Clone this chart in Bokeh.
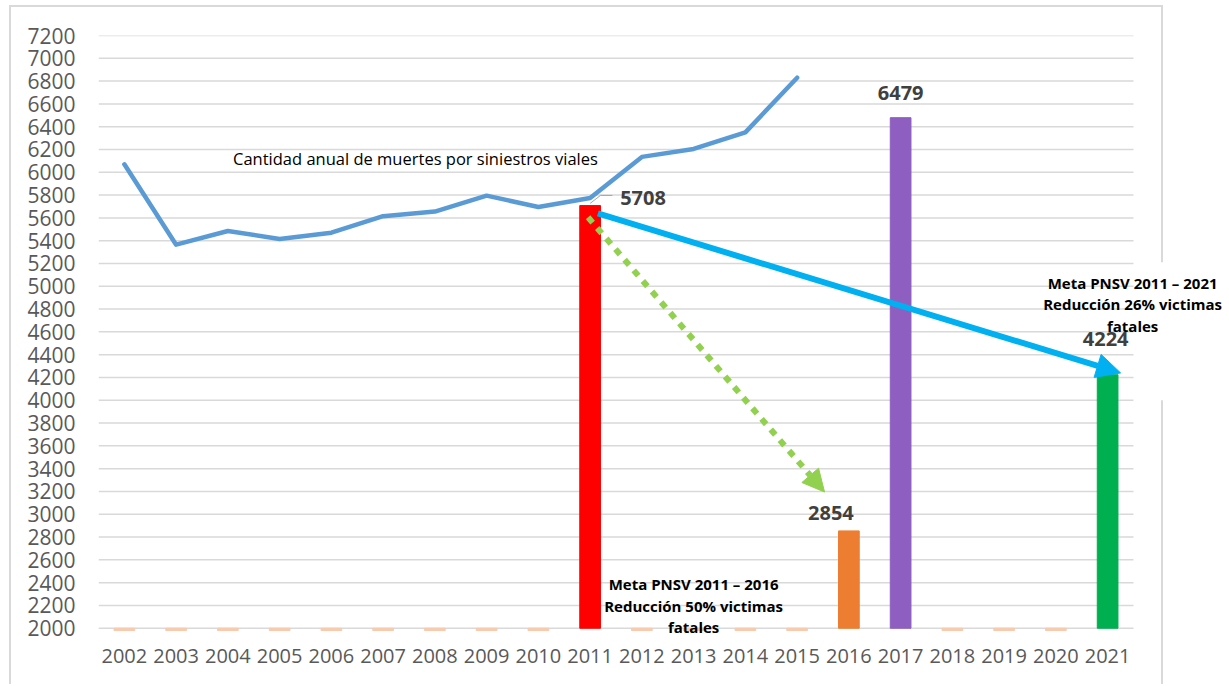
from bokeh.plotting import figure
from bokeh.models import FixedTicker, Label, Arrow, NormalHead, BoxAnnotation
from bokeh.embed import file_html
from bokeh.resources import INLINE

# ---- data ----
years = list(range(2002, 2022))
line_years = list(range(2002, 2016))
deaths = [6070, 5365, 5485, 5415, 5470, 5615, 5655, 5795, 5695, 5775, 6135, 6205, 6350, 6830]
bar_years = [2011, 2016, 2017, 2021]
bar_values = [5708, 2854, 6479, 4224]
bar_colors = ["#FF0000", "#ED7D31", "#8E5EC0", "#00B050"]
stub_years = [y for y in years if y not in bar_years]
y_ticks = list(range(2000, 7201, 200))
Y_MIN, Y_MAX = 2000, 7200
line_label = "Cantidad anual de muertes  por siniestros viales"
goal1 = ["Meta PNSV 2011 – 2016", "Reducción 50% victimas", "fatales"]
goal2 = ["Meta PNSV 2011 – 2021", "Reducción 26% victimas", "fatales"]

FONT = "Open Sans"
X0, X1 = years[0] - 0.5, years[-1] + 0.5
CAT_PX = 51.75
W, H = 1226, 684
ML, MR, MT, MB = 98, 2, 35, 46
x_end = X0 + (W - ML - MR) / CAT_PX

p = figure(width=W, height=H, x_range=(X0, x_end), y_range=(Y_MIN - 90, Y_MAX),
           output_backend="svg", toolbar_location=None,
           min_border_left=ML, min_border_right=MR, min_border_top=MT, min_border_bottom=MB)
p.outline_line_color = None
p.background_fill_color = None
p.border_fill_color = None

# chart border (drawn as the figure element's background, behind the transparent canvas)
p.styles = {
    "background-color": "white",
    "background-image": ", ".join(["linear-gradient(#D9D9D9, #D9D9D9)"] * 3),
    "background-size": "1154px 2px, 2px 700px, 2px 700px",
    "background-position": "9px 5px, 9px 5px, 1161px 5px",
    "background-repeat": "no-repeat",
}

p.xgrid.grid_line_color = None
p.ygrid.grid_line_color = None
# horizontal gridlines across the category area only
p.segment(x0=X0, x1=X1, y0=y_ticks, y1=y_ticks, line_color="#D9D9D9", line_width=1.5)

for ax in (p.xaxis[0], p.yaxis[0]):
    ax.axis_line_color = None
    ax.major_tick_line_color = None
    ax.minor_tick_line_color = None
    ax.major_label_text_font = FONT
    ax.major_label_text_font_size = "20px"
    ax.major_label_text_color = "#595959"
p.xaxis.ticker = FixedTicker(ticks=years)
p.yaxis.ticker = FixedTicker(ticks=y_ticks)
p.yaxis.major_label_text_font_size = "21px"
p.xaxis.major_label_standoff = 4
p.yaxis.major_label_standoff = 17

# stubs for empty years
p.vbar(x=stub_years, top=Y_MIN, bottom=Y_MIN - 20, width=0.4, color="#F8CBAD")
# bars
p.vbar(x=bar_years, top=bar_values, bottom=Y_MIN, width=0.4, color=bar_colors)

# line
p.line(line_years, deaths, line_color="#5B9BD5", line_width=4.5, line_join="round", line_cap="round")

# leader for 5708
p.line([2011.0, 2011.2, 2011.43], [5727, 5797, 5797], line_color="#A6A6A6", line_width=1)

# arrows
p.add_layout(Arrow(x_start=2011.15, y_start=5640, x_end=2021.25, y_end=4240,
                   line_color="#00B0F0", line_width=6,
                   end=NormalHead(size=24, fill_color="#00B0F0", line_color="#00B0F0")))
p.add_layout(Arrow(x_start=2010.96, y_start=5605, x_end=2015.53, y_end=3195,
                   line_color="#92D050", line_width=6, line_dash="7 7",
                   end=NormalHead(size=22, fill_color="#92D050", line_color="#92D050")))

# white box hiding the border behind the right-hand note
p.add_layout(BoxAnnotation(left=2021.8, right=2022.35, top=5210, bottom=4000,
                           fill_color="white", fill_alpha=1, line_color=None, level="underlay"))

# value labels
offsets = {2011: (30, 8, "left"), 2016: (-18, 18, "center"), 2017: (0, 25, "center"), 2021: (-2, 36, "center")}
for yr, v in zip(bar_years, bar_values):
    dx, dy, al = offsets[yr]
    p.add_layout(Label(x=yr, y=v, x_offset=dx, y_offset=dy, text=str(v), text_align=al,
                       text_baseline="middle", text_font=FONT, text_font_style="bold",
                       text_font_size="20px", text_color="#404040"))

p.add_layout(Label(x=2004.1, y=6120, text=line_label, text_align="left", text_baseline="middle",
                   text_font=FONT, text_font_size="16.5px", text_color="#000000"))

for i, t in enumerate(goal1):
    p.add_layout(Label(x=2013, y=Y_MIN, y_offset=44 - 21.5 * i, text=t, text_align="center",
                       text_baseline="middle", text_font=FONT, text_font_style="bold",
                       text_font_size="15px", text_color="#000000"))
for i, t in enumerate(goal2):
    p.add_layout(Label(x=2021, y=bar_values[-1], x_offset=25, y_offset=92 - 21.5 * i, text=t,
                       text_align="center", text_baseline="middle", text_font=FONT,
                       text_font_style="bold", text_font_size="15px", text_color="#000000"))

open("out.html", "w").write(file_html(p, INLINE))
